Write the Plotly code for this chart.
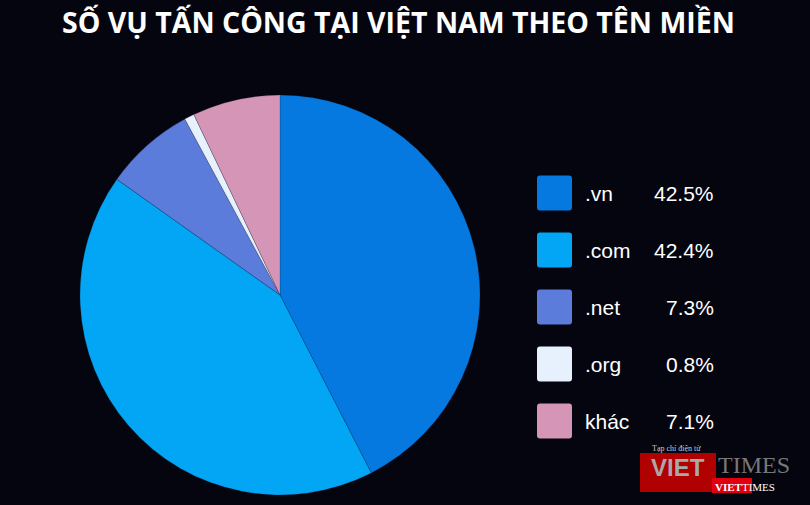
import plotly.graph_objects as go

W, H = 810, 505
labels = [".vn", ".com", ".net", ".org", "khác"]
values = [42.5, 42.4, 7.3, 0.8, 7.1]
pct_text = ["42.5%", "42.4%", "7.3%", "0.8%", "7.1%"]
colors = ["#0679e0", "#02a6f5", "#5b7cdb", "#e6f1fd", "#d495b6"]
title = "SỐ VỤ TẤN CÔNG TẠI VIỆT NAM THEO TÊN MIỀN"
BG = "#05050f"

def px(x):
    return x / W

def py(y):
    return 1 - y / H

fig = go.Figure(go.Pie(
    labels=labels, values=values, sort=False, direction="clockwise", rotation=0,
    marker=dict(colors=colors, line=dict(color="rgba(20,20,40,0.4)", width=0.5)),
    textinfo="none", hoverinfo="label+percent", showlegend=False,
    domain=dict(x=[px(80), px(480)], y=[py(495), py(95)]),
))

shapes = []
annotations = []

def rrect(x0, y0, x1, y1, r):
    rx, ry = r / W, r / H
    X0, X1 = px(x0), px(x1)
    Y0, Y1 = py(y1), py(y0)
    return (f"M {X0+rx},{Y0} L {X1-rx},{Y0} Q {X1},{Y0} {X1},{Y0+ry} "
            f"L {X1},{Y1-ry} Q {X1},{Y1} {X1-rx},{Y1} L {X0+rx},{Y1} "
            f"Q {X0},{Y1} {X0},{Y1-ry} L {X0},{Y0+ry} Q {X0},{Y0} {X0+rx},{Y0} Z")

y_start, step = 193, 57
for i, (lab, pt, col) in enumerate(zip(labels, pct_text, colors)):
    yc = y_start + i * step
    shapes.append(dict(type="path", xref="paper", yref="paper",
                       path=rrect(537, yc - 17.5, 572, yc + 17.5, 3),
                       fillcolor=col, line=dict(width=0)))
    annotations.append(dict(x=px(583), y=py(yc), xref="paper", yref="paper",
                            text=lab, showarrow=False, xanchor="left", yanchor="middle",
                            font=dict(family="Liberation Sans, Arial", size=21, color="white")))
    annotations.append(dict(x=px(716), y=py(yc), xref="paper", yref="paper",
                            text=pt, showarrow=False, xanchor="right", yanchor="middle",
                            font=dict(family="Liberation Sans, Arial", size=21, color="white")))

# title
annotations.append(dict(x=px(398), y=py(22), xref="paper", yref="paper", text=f"<b>{title}</b>",
                        showarrow=False, xanchor="center", yanchor="middle",
                        font=dict(family="Open Sans, Noto Sans", size=28.5, color="white")))

# watermark (approximate)
shapes.append(dict(type="rect", xref="paper", yref="paper", x0=px(640), x1=px(716),
                   y0=py(492), y1=py(453), fillcolor="#b00000", line=dict(width=0)))
shapes.append(dict(type="rect", xref="paper", yref="paper", x0=px(712), x1=px(752),
                   y0=py(493), y1=py(478), fillcolor="#e00010", line=dict(width=0)))
annotations.append(dict(x=px(678), y=py(467), xref="paper", yref="paper", text="<b>VIET</b>",
                        showarrow=False, xanchor="center", yanchor="middle",
                        font=dict(family="Liberation Sans", size=24, color="#a9a9a9")))
annotations.append(dict(x=px(716), y=py(465), xref="paper", yref="paper", text="TIMES",
                        showarrow=False, xanchor="left", yanchor="middle",
                        font=dict(family="Liberation Serif", size=24, color="#777777")))
annotations.append(dict(x=px(745), y=py(487), xref="paper", yref="paper", text="<b>VIET</b>TIMES",
                        showarrow=False, xanchor="center", yanchor="middle",
                        font=dict(family="Liberation Serif", size=11, color="white")))
annotations.append(dict(x=px(676), y=py(448), xref="paper", yref="paper", text="Tạp chí điện tử",
                        showarrow=False, xanchor="center", yanchor="middle",
                        font=dict(family="Liberation Serif", size=8, color="#cccccc")))

fig.update_layout(
    width=W, height=H, margin=dict(l=0, r=0, t=0, b=0),
    paper_bgcolor=BG, plot_bgcolor=BG,
    shapes=shapes, annotations=annotations,
)
fig.write_html("out.html", config={"displayModeBar": False})

with open("out.html", "r", encoding="utf-8") as f:
    html = f.read()
html = html.replace("<head>", "<head><style>html,body{margin:0;padding:0;overflow:hidden;background:#05050f;}</style>", 1)
with open("out.html", "w", encoding="utf-8") as f:
    f.write(html)
